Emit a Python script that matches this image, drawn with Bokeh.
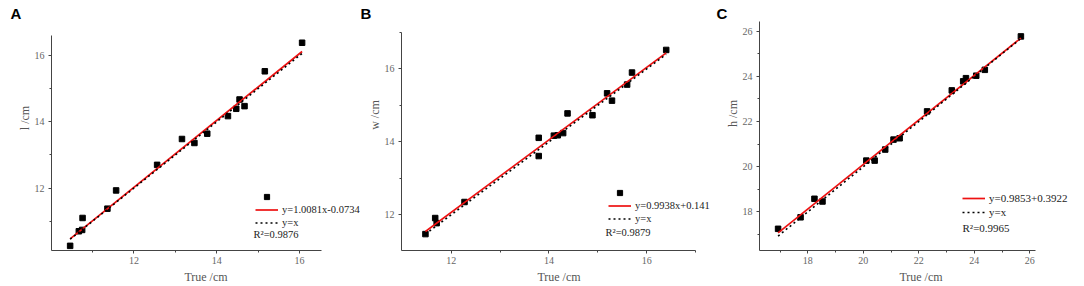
from bokeh.plotting import figure
from bokeh.layouts import row
from bokeh.models import FixedTicker, Legend, LegendItem, Label, Range1d
from bokeh.embed import file_html
from bokeh.resources import INLINE

# ---------------- data ----------------
# Panel A: length l
a_true = [10.46, 10.67, 10.75, 10.76, 11.36, 11.57, 12.56, 13.16, 13.46, 13.77,
          14.27, 14.47, 14.55, 14.67, 15.16, 16.06]
a_pred = [10.26, 10.70, 10.74, 11.10, 11.38, 11.93, 12.70, 13.48, 13.36, 13.64,
          14.17, 14.39, 14.67, 14.47, 15.52, 16.38]
a_fit = (1.0081, -0.0734)
a_eq = "y=1.0081x-0.0734"
a_r2 = "R\u00b2=0.9876"

# Panel B: width w
b_true = [11.47, 11.67, 11.70, 12.27, 13.79, 13.79, 14.10, 14.18, 14.29, 14.38,
          14.89, 15.19, 15.29, 15.60, 15.70, 16.40]
b_pred = [11.47, 11.91, 11.77, 12.35, 14.11, 13.61, 14.17, 14.18, 14.24, 14.78,
          14.73, 15.33, 15.13, 15.57, 15.90, 16.52]
b_fit = (0.9938, 0.141)
b_eq = "y=0.9938x+0.141"
b_r2 = "R\u00b2=0.9879"

# Panel C: height h
c_true = [16.93, 17.74, 18.24, 18.53, 20.11, 20.41, 20.79, 21.09, 21.31, 22.30,
          23.19, 23.60, 23.70, 24.07, 24.38, 25.68]
c_pred = [17.25, 17.76, 18.58, 18.46, 20.27, 20.27, 20.76, 21.20, 21.26, 22.45,
          23.38, 23.78, 23.92, 24.03, 24.29, 25.77]
c_fit = (0.9853, 0.3922)
c_eq = "y=0.9853+0.3922"
c_r2 = "R\u00b2=0.9965"

SERIF = "Liberation Serif"
NBSP = "\u00a0"


def panel(letter, xs, ys, fit, eq, r2, ylabel, ypad, xr, xbounds, yr, ybounds,
          major, minor, width, left, right, legend_loc, row_h, r2_pos,
          legend_size, marker_item, letter_offset):
    p = figure(width=width, height=286, output_backend="svg",
               toolbar_location=None, x_range=Range1d(*xr), y_range=Range1d(*yr),
               min_border_left=left, min_border_right=right,
               min_border_top=21, min_border_bottom=36)
    p.outline_line_color = None
    p.xgrid.visible = False
    p.ygrid.visible = False

    p.title.text = letter
    p.title.text_font = "Liberation Sans"
    p.title.text_font_size = "15px"
    p.title.text_font_style = "bold"
    p.title.text_color = "black"
    p.title.align = "left"
    p.title.offset = letter_offset
    p.title.standoff = 0

    # leading no-break spaces lift the rotated y label, as in the source figure
    for ax, lab in ((p.xaxis[0], "True /cm"), (p.yaxis[0], NBSP * ypad + ylabel)):
        ax.ticker = FixedTicker(ticks=major, minor_ticks=minor)
        ax.axis_label = lab
        ax.axis_label_text_font = SERIF
        ax.axis_label_text_font_size = "12px"
        ax.axis_label_text_font_style = "normal"
        ax.axis_label_text_color = "#555555"
        ax.major_label_text_font = SERIF
        ax.major_label_text_font_size = "10px"
        ax.major_label_text_color = "#666666"
        ax.axis_line_color = "#444444"
        ax.major_tick_line_color = "#444444"
        ax.minor_tick_line_color = "#444444"
        ax.major_tick_in = 0
        ax.major_tick_out = 3
        ax.minor_tick_in = 0
        ax.minor_tick_out = 2
    p.xaxis[0].bounds = xbounds
    p.yaxis[0].bounds = ybounds
    p.xaxis[0].major_label_standoff = 3
    p.xaxis[0].axis_label_standoff = 3
    p.yaxis[0].major_label_standoff = 4
    p.yaxis[0].axis_label_standoff = 0
    p.yaxis[0].major_label_orientation = "horizontal"

    x0, x1 = min(xs), max(xs)
    lx = [x0, x1]
    sq = p.scatter(xs, ys, marker="square", size=5.5, color="black")
    red = p.line(lx, [fit[0] * v + fit[1] for v in lx], line_color="#ee1111",
                 line_width=1.7)
    blk = p.line(lx, lx, line_color="black", line_width=1.6, line_dash="2 3")

    items = []
    if marker_item:
        items.append(LegendItem(label=" ", renderers=[sq]))
    items.append(LegendItem(label=eq, renderers=[red]))
    items.append(LegendItem(label="y=x", renderers=[blk]))
    leg = Legend(items=items, location=legend_loc, padding=0, margin=0,
                 spacing=0, label_height=row_h, glyph_height=row_h,
                 glyph_width=23, label_standoff=4,
                 label_text_font=SERIF, label_text_font_size=legend_size,
                 label_text_color="#222222",
                 border_line_color=None, background_fill_alpha=0)
    p.add_layout(leg)

    p.add_layout(Label(x=r2_pos[0], y=r2_pos[1], x_units="screen", y_units="screen",
                       text=r2, text_font=SERIF, text_font_size=legend_size,
                       text_color="#222222", text_baseline="middle"))
    return p


pa = panel("A", a_true, a_pred, a_fit, a_eq, a_r2, "l /cm", 12,
           (10.01, 17.47), (10.01, 16.53), (10.12, 17.02), (10.12, 16.6),
           [12, 14, 16], [11, 13, 15],
           360, 51, 0, (204, 21), 13, (202, 16), "10.5px",
           True, -41)
pb = panel("B", b_true, b_pred, b_fit, b_eq, b_r2, "w /cm", 14,
           (10.98, 17.43), (10.98, 17.0), (11.02, 17.30), (11.02, 16.99),
           [12, 14, 16], [13, 15, 17],
           356, 41, 0, (207, 25), 13, (204, 18), "10.5px",
           True, -41)
pc = panel("C", c_true, c_pred, c_fit, c_eq, c_r2, "h /cm", 15,
           (16.26, 27.9), (16.26, 26.2), (16.29, 26.43), (16.29, 26.43),
           [18, 20, 22, 24, 26], [17, 19, 21, 23, 25],
           368, 43, 2, (203, 31), 14, (203, 23), "11px",
           False, -43)

layout = row(pa, pb, pc, spacing=0)
open("out.html", "w").write(file_html(layout, INLINE))
